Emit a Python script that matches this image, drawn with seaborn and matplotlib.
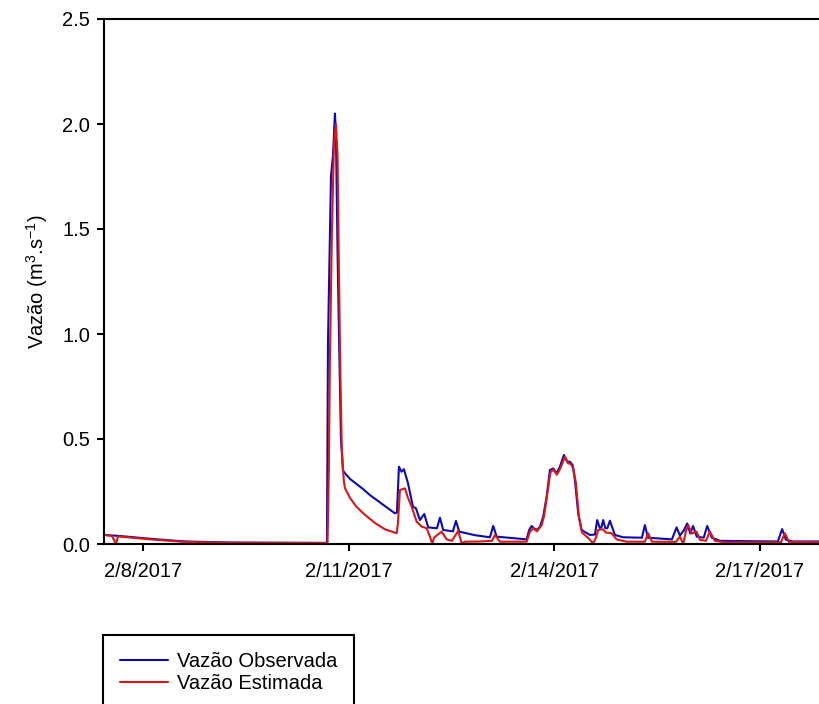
import numpy as np
import pandas as pd
import matplotlib
matplotlib.use("Agg")
import matplotlib.pyplot as plt
import seaborn as sns

# ---------------- data (hours since 2017-02-07 00:00, discharge m3/s) -------------
start_date = "2017-02-07 00:00"

obs_hours = [10.0, 15.95, 26.45, 38.7, 54.45, 88.4, 88.75, 89.8, 90.5, 91.2, 91.55, 92.1,
             92.6, 93.3, 94.0, 94.7, 96.45, 101.0, 103.45, 106.95, 112.2, 112.9, 113.6,
             114.5, 115.35, 116.75, 118.5, 119.55, 120.95, 122.45, 123.85, 126.9, 127.95,
             129.1, 132.5, 133.55, 134.7, 140.2, 145.45, 146.6, 147.8, 158.3, 159.2, 160.05,
             160.85, 161.8, 162.95, 164.1, 165.3, 166.45, 167.6, 168.8, 169.95, 171.35,
             172.5, 173.45, 174.4, 175.2, 176.35, 177.55, 180.45, 182.2, 183.0, 183.95,
             184.5, 185.1, 185.85, 186.55, 187.45, 189.2, 192.1, 198.65, 199.7, 200.75,
             209.15, 210.8, 211.95, 213.35, 214.5, 215.6, 216.55, 217.85, 220.3, 221.5,
             223.15, 225.95, 246.25, 247.75, 249.05, 251.5, 266.0]
obs_values = [0.044, 0.038, 0.025, 0.012, 0.007, 0.005, 0.95, 1.75, 1.85, 2.05, 1.95, 1.4,
              1.0, 0.5, 0.35, 0.337, 0.31, 0.262, 0.233, 0.198, 0.146, 0.15, 0.368,
              0.344, 0.356, 0.29, 0.178, 0.17, 0.114, 0.143, 0.079, 0.075, 0.125,
              0.067, 0.06, 0.11, 0.059, 0.042, 0.032, 0.086, 0.035, 0.022, 0.067, 0.086,
              0.075, 0.067, 0.082, 0.13, 0.225, 0.352, 0.36, 0.337, 0.368, 0.424,
              0.392, 0.392, 0.376, 0.305, 0.146, 0.067, 0.043, 0.045, 0.114, 0.075,
              0.08, 0.114, 0.075, 0.075, 0.111, 0.043, 0.032, 0.03, 0.09, 0.03,
              0.022, 0.079, 0.04, 0.065, 0.098, 0.05, 0.086, 0.035, 0.03, 0.086,
              0.03, 0.015, 0.012, 0.071, 0.02, 0.012, 0.012]

est_hours = [10.0, 13.15, 14.55, 15.25, 26.45, 38.7, 54.45, 88.6, 89.05, 89.45, 90.15, 90.85,
             91.55, 92.1, 92.6, 93.1, 93.6, 94.3, 94.7, 96.45, 98.55, 101.0, 105.2, 108.7,
             112.8, 113.25, 113.95, 115.7, 116.75, 118.05, 119.8, 121.55, 123.3, 124.45,
             125.3, 125.85, 128.55, 130.3, 132.15, 134.35, 135.55, 136.7, 141.95, 146.15,
             147.2, 148.95, 158.3, 159.45, 160.6, 161.9, 163.55, 164.35, 165.4, 166.6,
             167.65, 168.9, 170.1, 171.7, 172.75, 173.8, 174.65, 175.55, 176.6, 177.65,
             179.75, 181.6, 182.55, 183.35, 185.0, 186.05, 188.05, 189.8, 193.3, 199.7,
             200.85, 202.15, 210.55, 211.95, 213.1, 214.05, 214.85, 216.15, 217.8, 218.95,
             221.05, 222.45, 224.2, 227.7, 247.3, 248.7, 250.1, 266.0]
est_values = [0.044, 0.038, 0.0, 0.036, 0.022, 0.01, 0.006, 0.005, 0.35, 0.9, 1.5, 1.9,
              2.0, 1.85, 1.3, 0.8, 0.45, 0.3, 0.267, 0.22, 0.18, 0.147, 0.1, 0.07,
              0.051, 0.1, 0.257, 0.265, 0.22, 0.178, 0.106, 0.083, 0.075, 0.035,
              0.0, 0.03, 0.059, 0.022, 0.015, 0.063, 0.003, 0.011, 0.012, 0.015,
              0.043, 0.011, 0.011, 0.059, 0.075, 0.06, 0.09, 0.13, 0.225, 0.34,
              0.355, 0.33, 0.36, 0.416, 0.385, 0.38, 0.36, 0.29, 0.13, 0.055,
              0.03, 0.003, 0.03, 0.067, 0.07, 0.055, 0.051, 0.022, 0.011, 0.011,
              0.051, 0.011, 0.01, 0.035, 0.0, 0.06, 0.09, 0.05, 0.059, 0.02,
              0.015, 0.059, 0.015, 0.008, 0.008, 0.051, 0.01, 0.008]

series_labels = ["Vazão Observada", "Vazão Estimada"]
tick_dates = ["2017-02-08", "2017-02-11", "2017-02-14", "2017-02-17"]
tick_labels = ["2/8/2017", "2/11/2017", "2/14/2017", "2/17/2017"]
y_ticks = [0.0, 0.5, 1.0, 1.5, 2.0, 2.5]
y_label = "Vazão (m$^3$.s$^{-1}$)"

# ---------------- build frames -------------
t0 = pd.Timestamp(start_date)
obs_df = pd.DataFrame({"time": t0 + pd.to_timedelta(obs_hours, unit="h"), "q": obs_values})
est_df = pd.DataFrame({"time": t0 + pd.to_timedelta(est_hours, unit="h"), "q": est_values})

sns.set_style("ticks")
plt.rcParams["font.family"] = ["Liberation Sans", "DejaVu Sans"]
plt.rcParams["mathtext.fontset"] = "custom"
plt.rcParams["mathtext.rm"] = "Liberation Sans"
plt.rcParams["mathtext.it"] = "Liberation Sans:italic"
plt.rcParams["text.color"] = "black"
plt.rcParams["axes.labelcolor"] = "black"
plt.rcParams["xtick.color"] = "black"
plt.rcParams["ytick.color"] = "black"

W, H = 819, 704
fig = plt.figure(figsize=(W / 100, H / 100), dpi=100)
ax = fig.add_axes([104 / W, 1 - 544 / H, (830 - 104) / W, (544 - 19) / H])

blue = "#0b0bb0"
red = "#dc1616"
sns.lineplot(data=obs_df, x="time", y="q", ax=ax, color=blue, linewidth=1.5,
             estimator=None, sort=False, label=series_labels[0], legend=False)
sns.lineplot(data=est_df, x="time", y="q", ax=ax, color=red, linewidth=1.5,
             estimator=None, sort=False, label=series_labels[1], legend=False)

ax.set_xlim(t0 + pd.Timedelta(hours=10.35), t0 + pd.Timedelta(hours=264.5))
ax.set_ylim(0, 2.5)
ax.set_xticks(pd.to_datetime(tick_dates))
ax.set_xticklabels(tick_labels)
ax.set_yticks(y_ticks)
ax.set_yticklabels([f"{v:.1f}" for v in y_ticks])
ax.set_xlabel("")
ax.set_ylabel(y_label, fontsize=14.5, labelpad=9, color="black")

for s in ax.spines.values():
    s.set_linewidth(1.5)
    s.set_color("black")
ax.tick_params(axis="both", direction="out", length=5, width=1.5, labelsize=14.5,
               colors="black", labelcolor="black")
ax.tick_params(axis="x", pad=8)
ax.tick_params(axis="y", pad=5)

handles, labels = ax.get_legend_handles_labels()
leg = fig.legend(handles, labels, loc="upper left",
                 bbox_to_anchor=(103 / W, 1 - 635 / H),
                 bbox_transform=fig.transFigure,
                 fontsize=14.5, frameon=True, fancybox=False, framealpha=1,
                 edgecolor="black", borderpad=0.85, labelspacing=0.15,
                 handlelength=2.4, handletextpad=0.4, borderaxespad=0)
leg.get_frame().set_linewidth(1.5)
for txt in leg.get_texts():
    txt.set_color("black")
for line in leg.get_lines():
    line.set_linewidth(1.5)

fig.savefig("out.png", dpi=100)
